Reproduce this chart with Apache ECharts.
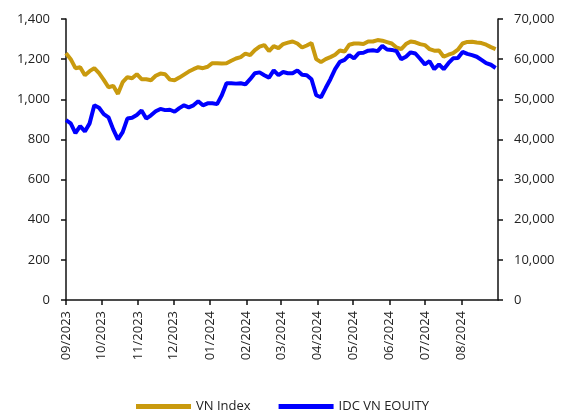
<!DOCTYPE html>
<html>
<head>
<meta charset="utf-8">
<script src="https://cdn.jsdelivr.net/npm/echarts@6/dist/echarts.min.js"></script>
<style>
  html, body { margin: 0; padding: 0; background: #fff; }
  #chart { width: 565px; height: 410px; }
</style>
</head>
<body>
<div id="chart"></div>
<script>
// data
var dates = [
  '2023-09-01','2023-09-05','2023-09-09','2023-09-13','2023-09-17','2023-09-21','2023-09-25','2023-09-29',
  '2023-10-03','2023-10-07','2023-10-11','2023-10-15','2023-10-19','2023-10-23','2023-10-27','2023-10-31',
  '2023-11-04','2023-11-08','2023-11-12','2023-11-16','2023-11-20','2023-11-24','2023-11-28',
  '2023-12-02','2023-12-06','2023-12-10','2023-12-14','2023-12-18','2023-12-22','2023-12-26','2023-12-30',
  '2024-01-03','2024-01-07','2024-01-11','2024-01-15','2024-01-19','2024-01-23','2024-01-27','2024-01-31',
  '2024-02-04','2024-02-08','2024-02-12','2024-02-16','2024-02-20','2024-02-24','2024-02-28',
  '2024-03-03','2024-03-07','2024-03-11','2024-03-15','2024-03-19','2024-03-23','2024-03-27','2024-03-31',
  '2024-04-04','2024-04-08','2024-04-12','2024-04-16','2024-04-20','2024-04-24','2024-04-28',
  '2024-05-02','2024-05-06','2024-05-10','2024-05-14','2024-05-18','2024-05-22','2024-05-26','2024-05-30',
  '2024-06-03','2024-06-07','2024-06-11','2024-06-15','2024-06-19','2024-06-23','2024-06-27',
  '2024-07-01','2024-07-05','2024-07-09','2024-07-13','2024-07-17','2024-07-21','2024-07-25','2024-07-29',
  '2024-08-02','2024-08-06','2024-08-10','2024-08-14','2024-08-18','2024-08-22','2024-08-26','2024-08-30'
];
var vnIndex = [
  1230,1200,1155,1160,1120,1140,1155,1130,
  1097,1060,1067,1027,1085,1110,1105,1125,
  1100,1100,1095,1117,1128,1125,1098,
  1095,1108,1123,1138,1150,1160,1155,1162,
  1180,1180,1178,1180,1192,1203,1210,1228,
  1220,1245,1262,1270,1240,1265,1255,
  1275,1282,1288,1278,1258,1268,1280,1200,
  1185,1200,1210,1222,1243,1238,1272,
  1278,1278,1275,1288,1288,1295,1292,1285,
  1278,1258,1250,1275,1288,1284,1275,
  1270,1250,1242,1243,1212,1222,1230,1247,
  1278,1286,1287,1283,1280,1272,1260,1250
];
var idcEquity = [
  44800,44000,41600,43300,42000,44000,48500,47900,
  46300,45500,42500,40000,41800,45200,45400,46100,
  47200,45200,46000,47000,47600,47300,47400,
  46900,47800,48500,48000,48500,49500,48500,49000,
  49000,48800,51000,54000,54000,53900,54000,53700,
  55000,56500,56700,56000,55400,57200,56000,
  56800,56500,56500,57200,56100,56000,55000,51000,
  50500,52800,55000,57500,59300,59800,61000,
  60200,61500,61600,62100,62200,62000,63300,62400,
  62300,62000,60000,60600,61700,61400,60100,
  58700,59500,57500,58700,57500,59000,60200,60300,
  61800,61300,61000,60600,59800,59000,58600,57800
];
var monthStarts = ['2023-09-01','2023-10-01','2023-11-01','2023-12-01','2024-01-01','2024-02-01',
  '2024-03-01','2024-04-01','2024-05-01','2024-06-01','2024-07-01','2024-08-01'];
var monthLabels = ['09/2023','10/2023','11/2023','12/2023','01/2024','02/2024',
  '03/2024','04/2024','05/2024','06/2024','07/2024','08/2024'];

var origin = Date.parse('2023-09-01');
function dayOf(d) { return Math.round((Date.parse(d) - origin) / 86400000); }
var tickDays = monthStarts.map(dayOf);
var endDay = dayOf('2024-09-01');

function fmt(v) { return String(v).replace(/\B(?=(\d{3})+(?!\d))/g, ','); }

var chart = echarts.init(document.getElementById('chart'));
var font = 'Open Sans';
var axisStyle = { lineStyle: { color: '#111', width: 1.5 } };

var option = {
  backgroundColor: '#fff',
  animation: false,
  textStyle: { fontFamily: font },
  grid: { left: 66, right: 67, top: 19, bottom: 110, outerBoundsMode: 'none' },
  legend: {
    top: 395,
    left: 'center',
    icon: 'rect',
    itemWidth: 55,
    itemHeight: 5,
    itemGap: 28,
    textStyle: { fontSize: 13, color: '#222', fontFamily: font },
    data: ['VN Index', 'IDC VN EQUITY']
  },
  xAxis: {
    type: 'value',
    min: 0,
    max: endDay,
    axisLine: axisStyle,
    splitLine: { show: false },
    axisTick: { show: true, length: 5, customValues: tickDays, lineStyle: { color: '#111', width: 1.5 } },
    axisLabel: {
      customValues: tickDays,
      rotate: 90,
      margin: 11,
      fontSize: 13,
      color: '#222',
      formatter: function (v) {
        var i = tickDays.indexOf(Math.round(v));
        return i >= 0 ? monthLabels[i] : '';
      }
    }
  },
  yAxis: [
    {
      type: 'value',
      min: 0, max: 1400, interval: 200,
      axisLine: { show: true, lineStyle: { color: '#111', width: 1.5 } },
      axisTick: { show: true, length: 5, lineStyle: { color: '#111', width: 1.5 } },
      splitLine: { show: false },
      axisLabel: { fontSize: 13, color: '#222', margin: 16, formatter: fmt }
    },
    {
      type: 'value',
      min: 0, max: 70000, interval: 10000,
      axisLine: { show: true, lineStyle: { color: '#111', width: 1.5 } },
      axisTick: { show: true, length: 5, lineStyle: { color: '#111', width: 1.5 } },
      splitLine: { show: false },
      axisLabel: { fontSize: 13, color: '#222', margin: 16, formatter: fmt }
    }
  ],
  series: [
    {
      name: 'VN Index',
      type: 'line',
      yAxisIndex: 0,
      showSymbol: false,
      color: '#C99A0E',
      lineStyle: { width: 4, color: '#C99A0E' },
      data: dates.map(function (d, i) { return [dayOf(d), vnIndex[i]]; })
    },
    {
      name: 'IDC VN EQUITY',
      type: 'line',
      yAxisIndex: 1,
      showSymbol: false,
      color: '#0000FF',
      lineStyle: { width: 4, color: '#0000FF' },
      data: dates.map(function (d, i) { return [dayOf(d), idcEquity[i]]; })
    }
  ]
};
chart.setOption(option);
</script>
</body>
</html>
